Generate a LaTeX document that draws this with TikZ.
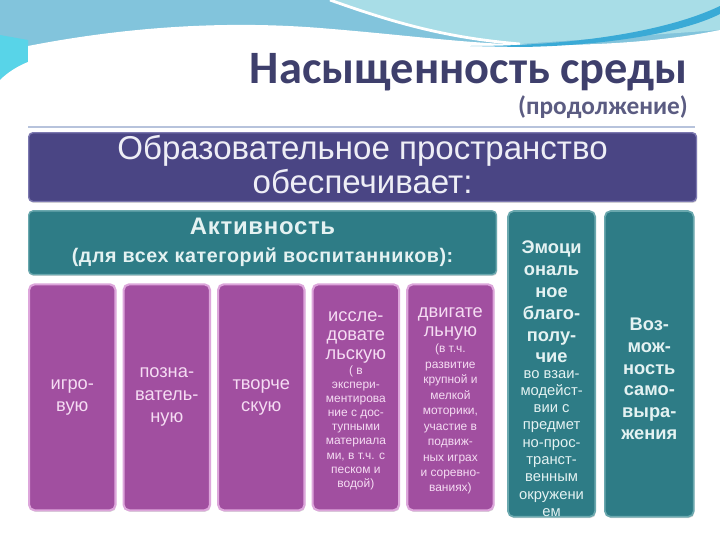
\documentclass[tikz,border=0pt]{standalone}
\usepackage{fontspec}
\setmainfont{Liberation Sans}
\newfontfamily\titlefont{Carlito}
\newfontfamily\widefont[LetterSpace=3]{Liberation Sans}
\usepackage{tikz}
\usetikzlibrary{positioning, shadows}
\usepackage{xcolor}

\definecolor{titleblue}{HTML}{3E3F6C}
\definecolor{headviolet}{HTML}{4A4584}
\definecolor{headborder}{HTML}{7C78B0}
\definecolor{headtext}{HTML}{EEEEF6}
\definecolor{tealfill}{HTML}{2E7C86}
\definecolor{tealborder}{HTML}{6AA8AE}
\definecolor{tealtext}{HTML}{E4F2F2}
\definecolor{plumfill}{HTML}{A14FA0}
\definecolor{plumborder}{HTML}{DDA6DB}
\definecolor{plumtext}{HTML}{F5DCF3}
\definecolor{waveblue}{HTML}{82C4DC}
\definecolor{wavelight}{HTML}{A8DDE7}
\definecolor{wavecyan}{HTML}{58D4E8}
\definecolor{waveline}{HTML}{3AAAD6}
\definecolor{rulecolor}{HTML}{B7C3DC}

\begin{document}
\begin{tikzpicture}[x=0.025cm, y=-0.025cm, node distance=0.2cm and 0.15cm]
                % Styles
                \tikzstyle{headbox} = [rectangle, rounded corners=3pt, draw=headborder, line width=1pt, fill=headviolet, minimum width=16.69cm, minimum height=1.72cm, drop shadow={opacity=0.3, shadow xshift=0.5pt, shadow yshift=-1pt}]
                \tikzstyle{tealbar} = [rectangle, rounded corners=3pt, draw=tealborder, line width=1pt, fill=tealfill, text=tealtext, align=center, inner sep=1pt, minimum width=11.69cm, minimum height=1.59cm, font=\widefont\bfseries\fontsize{14}{20}\selectfont, drop shadow={opacity=0.3, shadow xshift=0.5pt, shadow yshift=-1pt}]
                \tikzstyle{plumcol} = [rectangle, rounded corners=4pt, draw=plumborder, line width=1.5pt, fill=plumfill, text=plumtext, align=center, minimum width=2.16cm, minimum height=5.65cm, font=\fontsize{13}{16}\selectfont, drop shadow={opacity=0.3, shadow xshift=0.5pt, shadow yshift=-1pt}]
                \tikzstyle{tealcol} = [rectangle, rounded corners=4pt, draw=tealborder, line width=1.2pt, fill=tealfill, minimum height=7.64cm, drop shadow={opacity=0.3, shadow xshift=0.5pt, shadow yshift=-1pt}]
                \tikzstyle{plumhead} = [inner sep=0pt, text=plumtext, align=center, font=\fontsize{13}{13.6}\selectfont]
                \tikzstyle{plumnote} = [inner sep=0pt, text=plumtext, align=center, font=\fontsize{8.5}{10}\selectfont]
                \tikzstyle{tealhead} = [inner sep=0pt, text=tealtext, align=center, font=\bfseries\fontsize{13}{15.6}\selectfont]
                \tikzstyle{tealnote} = [inner sep=0pt, text=tealtext, align=center, font=\fontsize{10.5}{12.3}\selectfont]

                \useasboundingbox (0,0) rectangle (720,540);

                % Background wave
                \fill[waveblue] (0,0) rectangle (720,90);
                \fill[wavelight] (330,0) .. controls (400,25) and (450,38) .. (520,44) -- (720,30) -- (720,0) -- cycle;
                \draw[white, line width=2pt] (330,0) .. controls (400,25) and (450,38) .. (520,44);
                \fill[wavecyan] (0,35) -- (28,40) -- (28,62) .. controls (18,66) and (8,72) .. (0,80) -- cycle;
                \fill[white] (28,46) .. controls (120,28) and (220,20) .. (320,28) .. controls (420,36) and (480,46) .. (560,45) .. controls (640,44) and (690,36) .. (720,30) -- (720,540) -- (0,540) -- (0,80) .. controls (8,72) and (18,66) .. (28,62) -- cycle;
                \fill[waveline] (470,46) .. controls (580,46) and (670,30) .. (720,6) -- (720,14) .. controls (680,34) and (600,46) .. (520,47) -- cycle;
                \draw[rulecolor, line width=0.8pt] (28,127) -- (695,127);

                % Nodes
                \node (title) [anchor=base east, inner sep=0pt, text=titleblue, font=\titlefont\bfseries\fontsize{33}{36}\selectfont] at (688,83) {Насыщенность среды};
                \node (subtitle) [anchor=base east, inner sep=0pt, text=titleblue!85, font=\titlefont\bfseries\fontsize{18}{20}\selectfont] at (688,114) {(продолжение)};
                \node (space) [headbox, anchor=north west] at (28,132) {};
                \node (spacetext) [inner sep=0pt, text=headtext, align=center, font=\fontsize{23.5}{24}\selectfont] at ([yshift=0.06cm]space.center) {Образовательное пространство\\обеспечивает:};
                \node (activity) [tealbar, below right=0.2cm and 0cm of space.south west] {{\fontsize{17}{20}\selectfont Активность}\\(для всех категорий воспитанников):};
                \node (play) [plumcol, below right=0.2cm and 0cm of activity.south west] {игро-\\вую};
                \node (cognit) [plumcol, right=of play] {позна-\\ватель-\\ную};
                \node (creative) [plumcol, right=of cognit] {творче\\скую};
                \node (research) [plumcol, right=of creative] {};
                \node (motor) [plumcol, right=of research] {};
                \node (emotion) [tealcol, minimum width=2.18cm, below right=0cm and 0.25cm of activity.north east] {};
                \node (selfexpr) [tealcol, minimum width=2.22cm, right=0.2cm of emotion] {};

                \node (researchhead) [plumhead, below=0.7cm of research.north] {иссле-\\довате\\льскую};
                \node (researchnote) [plumnote, below=0.05cm of researchhead] {( в\\экспери-\\ментирова\\ние с дос-\\тупными\\материала\\ми, в т.ч. с\\песком и\\водой)};
                \node (motorhead) [plumhead, below=0.6cm of motor.north] {двигате\\льную};
                \node (motornote) [plumnote, font=\fontsize{8.5}{11}\selectfont, below=0.08cm of motorhead] {(в т.ч.\\развитие\\крупной и\\мелкой\\моторики,\\участие в\\подвиж-\\ных играх\\и соревно-\\ваниях)};
                \node (emotionhead) [tealhead, below=0.75cm of emotion.north] {Эмоци\\ональ\\ное\\благо-\\полу-\\чие};
                \node (emotionnote) [tealnote, below=0.16cm of emotionhead] {во взаи-\\модейст-\\вии с\\предмет\\но-прос-\\транст-\\венным\\окружени\\ем};
                \node (selfexprtext) [tealhead, font=\bfseries\fontsize{13}{15.4}\selectfont] at ([yshift=-0.375cm]selfexpr.center) {Воз-\\мож-\\ность\\само-\\выра-\\жения};

\end{tikzpicture}
\end{document}
